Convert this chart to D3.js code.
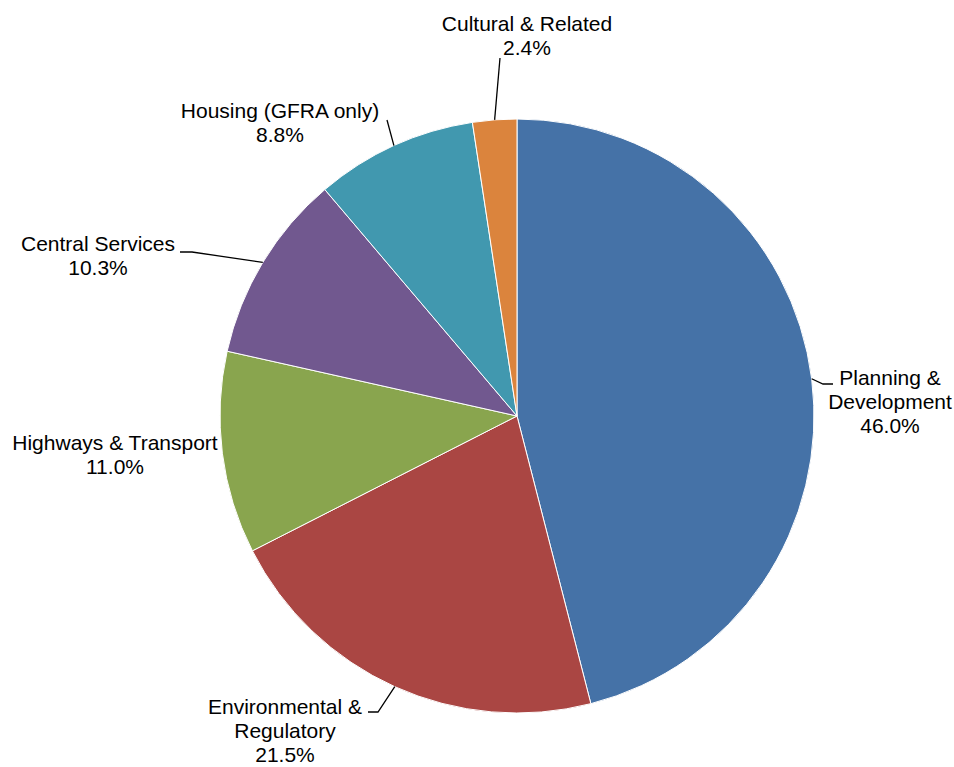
<!DOCTYPE html>
<html>
<head>
<meta charset="utf-8">
<script src="https://cdn.jsdelivr.net/npm/d3@7"></script>
<style>
body { margin: 0; background: #fff; }
text { font-family: "Liberation Sans", Arial, sans-serif; font-size: 21px; fill: #000; }
</style>
</head>
<body>
<svg id="chart" width="954" height="767"></svg>
<script>
// values, clockwise from 12 o'clock
var categories = ["Planning & Development", "Environmental & Regulatory", "Highways & Transport", "Central Services", "Housing (GFRA only)", "Cultural & Related"];
var values = [46.0, 21.5, 11.0, 10.3, 8.8, 2.4];
var colors = ["#4572a7", "#aa4643", "#89a54e", "#71588f", "#4198af", "#db843d"];
var labelLines = [["Planning &", "Development"], ["Environmental &", "Regulatory"], ["Highways & Transport"], ["Central Services"], ["Housing (GFRA only)"], ["Cultural & Related"]];

// label placement (text centre, first baseline) and leader elbows
var labelLayout = [
  {x: 890, y: 385, leader: [[823, 384], [833, 384]]},
  {x: 285, y: 714, leader: [[378, 712], [368, 712]]},
  {x: 115, y: 450, leader: null},
  {x: 98, y: 251, leader: [[192, 252], [180, 252]]},
  {x: 280, y: 118, leader: [[387, 120]]},
  {x: 527, y: 31, leader: [[500, 58]]}
];

var cx = 517, cy = 416, radius = 297, lineH = 24;

var svg = d3.select("#chart");
var g = svg.append("g").attr("transform", "translate(" + cx + "," + cy + ")");

var pie = d3.pie().sort(null).value(function(d){ return d; });
var arcs = pie(values);
var arc = d3.arc().innerRadius(0).outerRadius(radius);

g.selectAll("path.slice")
  .data(arcs)
  .enter().append("path")
  .attr("class", "slice")
  .attr("d", arc)
  .attr("fill", function(d, i){ return colors[i]; })
  .attr("stroke", "#fff")
  .attr("stroke-width", 1);

// leader lines
arcs.forEach(function(d, i){
  var lay = labelLayout[i];
  if(!lay.leader) return;
  var mid = (d.startAngle + d.endAngle) / 2;
  var pts = [[cx + radius * Math.sin(mid), cy - radius * Math.cos(mid)]].concat(lay.leader);
  svg.append("path")
    .attr("d", d3.line()(pts))
    .attr("fill", "none")
    .attr("stroke", "#000")
    .attr("stroke-width", 1.3);
});

// labels
arcs.forEach(function(d, i){
  var lay = labelLayout[i];
  var lines = labelLines[i].concat([values[i].toFixed(1) + "%"]);
  var t = svg.append("text").attr("text-anchor", "middle");
  lines.forEach(function(l, j){
    t.append("tspan").attr("x", lay.x).attr("y", lay.y + j * lineH).text(l);
  });
});
</script>
</body>
</html>
